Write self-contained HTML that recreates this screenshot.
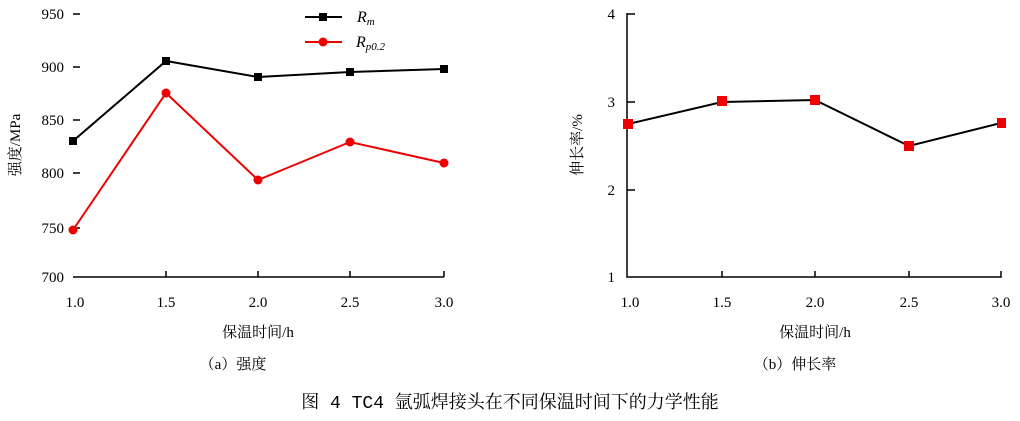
<!DOCTYPE html>
<html><head><meta charset="utf-8"><style>
body{margin:0;background:#fff;}
svg text{font-family:"Liberation Serif","Noto Serif CJK SC","Noto Sans CJK SC",serif;fill:#000;}
</style></head><body>
<svg width="1020" height="416" viewBox="0 0 1020 416" xmlns="http://www.w3.org/2000/svg">
<!-- Left chart -->
<g stroke="#000" stroke-width="1.5" fill="none">
<line x1="73" y1="277" x2="444" y2="277"/>
<line x1="166" y1="277" x2="166" y2="271"/><line x1="258" y1="277" x2="258" y2="271"/>
<line x1="350" y1="277" x2="350" y2="271"/><line x1="444" y1="277" x2="444" y2="271"/>
<line x1="73" y1="14" x2="80" y2="14"/><line x1="73" y1="67" x2="80" y2="67"/>
<line x1="73" y1="120" x2="80" y2="120"/><line x1="73" y1="173" x2="80" y2="173"/>
<line x1="73" y1="228" x2="80" y2="228"/>
</g>
<g font-size="15" text-anchor="end">
<text x="64" y="19">950</text><text x="64" y="72">900</text><text x="64" y="125">850</text>
<text x="64" y="178">800</text><text x="64" y="233">750</text><text x="64" y="282">700</text>
</g>
<g font-size="15" text-anchor="middle">
<text x="75" y="307">1.0</text><text x="166" y="307">1.5</text><text x="258" y="307">2.0</text>
<text x="350" y="307">2.5</text><text x="444" y="307">3.0</text>
<text x="258" y="337">保温时间/h</text>
<text x="233" y="369">（a）强度</text>
</g>
<text font-size="15" transform="translate(20,145) rotate(-90)" text-anchor="middle">强度/MPa</text>
<polyline points="73,141 166,61 258,77 350,72 444,69" fill="none" stroke="#000" stroke-width="2"/>
<g fill="#000"><rect x="69" y="137" width="8" height="8"/><rect x="162" y="57" width="8" height="8"/><rect x="254" y="73" width="8" height="8"/><rect x="346" y="68" width="8" height="8"/><rect x="440" y="65" width="8" height="8"/></g>
<polyline points="73,230 166,93 258,180 350,142 444,163" fill="none" stroke="#e00" stroke-width="2"/>
<g fill="#e00"><circle cx="73" cy="230" r="4.5"/><circle cx="166" cy="93" r="4.5"/><circle cx="258" cy="180" r="4.5"/><circle cx="350" cy="142" r="4.5"/><circle cx="444" cy="163" r="4.5"/></g>
<line x1="305" y1="17" x2="342" y2="17" stroke="#000" stroke-width="2"/><rect x="319" y="13" width="8" height="8"/>
<line x1="305" y1="42" x2="342" y2="42" stroke="#e00" stroke-width="2"/><circle cx="323" cy="42" r="4.5" fill="#e00"/>
<text x="357" y="22" font-size="16" font-style="italic">R<tspan font-size="11" dy="3">m</tspan></text>
<text x="356" y="47" font-size="16" font-style="italic">R<tspan font-size="11" dy="3">p0.2</tspan></text>
<!-- Right chart -->
<g stroke="#000" stroke-width="1.5" fill="none">
<polyline points="627,13 627,277 1001,277 1001,271"/>
<line x1="722" y1="277" x2="722" y2="271"/><line x1="815" y1="277" x2="815" y2="271"/><line x1="909" y1="277" x2="909" y2="271"/>
<line x1="627" y1="14" x2="635" y2="14"/><line x1="627" y1="102" x2="635" y2="102"/><line x1="627" y1="190" x2="635" y2="190"/>
</g>
<g font-size="15" text-anchor="end">
<text x="615" y="19">4</text><text x="615" y="107">3</text><text x="615" y="195">2</text><text x="615" y="282">1</text>
</g>
<g font-size="15" text-anchor="middle">
<text x="630" y="307">1.0</text><text x="722" y="307">1.5</text><text x="815" y="307">2.0</text>
<text x="909" y="307">2.5</text><text x="1001" y="307">3.0</text>
<text x="815" y="337">保温时间/h</text>
<text x="795" y="369">（b）伸长率</text>
</g>
<text font-size="15" transform="translate(582,145) rotate(-90)" text-anchor="middle">伸长率/%</text>
<polyline points="628,124 722,102 815,100 909,146 1001,123" fill="none" stroke="#000" stroke-width="2"/>
<g fill="#e00"><rect x="623" y="119" width="10" height="10"/><rect x="717" y="96" width="10" height="10"/><rect x="810" y="95" width="10" height="10"/><rect x="904" y="141" width="10" height="10"/><rect x="997" y="118" width="9" height="10"/></g>
<text x="510" y="408" font-size="18" text-anchor="middle" style="font-family:'Liberation Mono','Noto Serif CJK SC',serif">图 4  TC4 氩弧焊接头在不同保温时间下的力学性能</text>
</svg>
</body></html>
